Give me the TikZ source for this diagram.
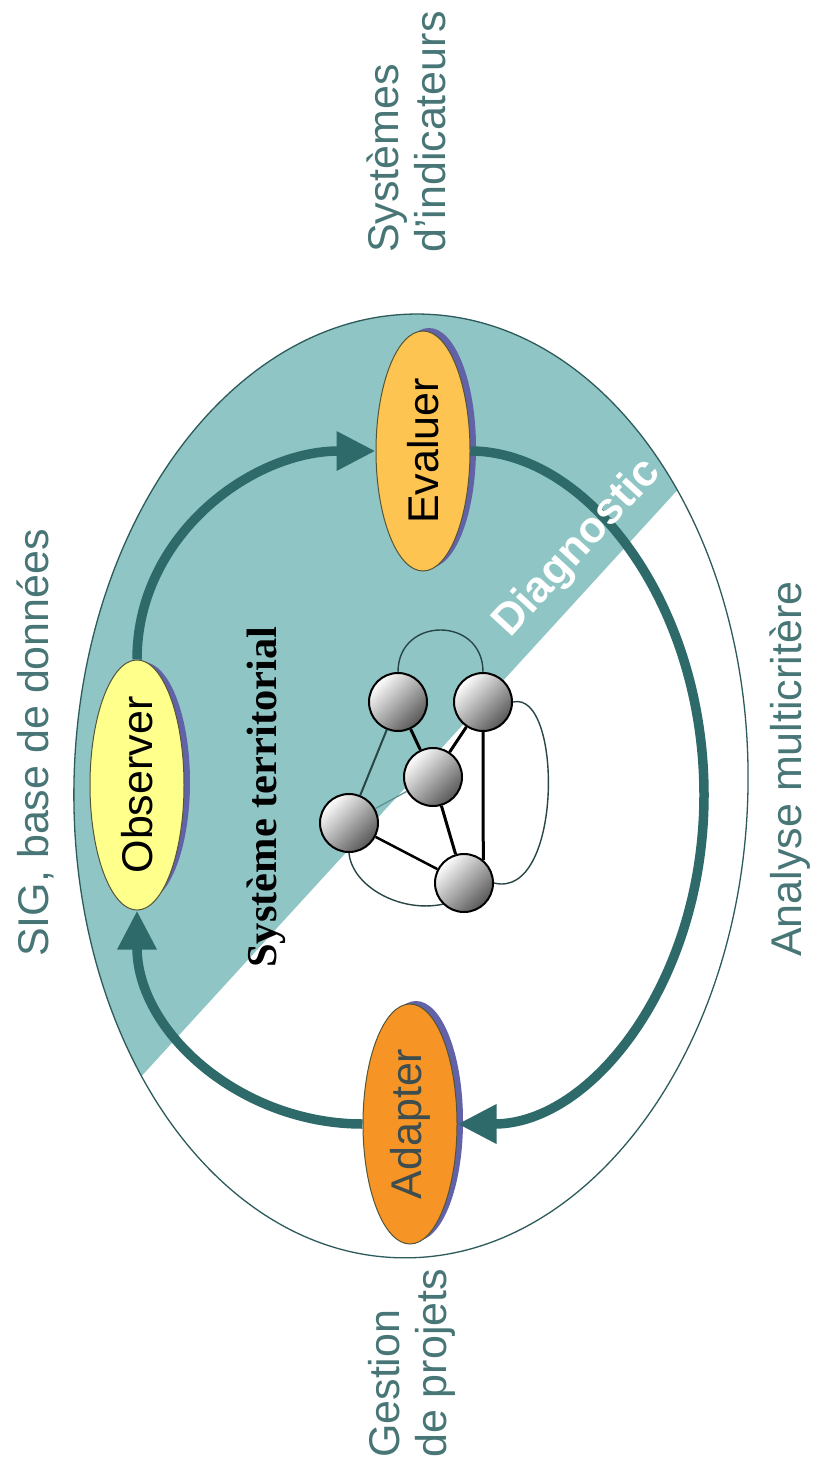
\documentclass[tikz,border=0pt]{standalone}
\usepackage{fontspec}
\setmainfont{Liberation Sans}
\newfontfamily\serifb{Liberation Serif}
\usetikzlibrary{arrows.meta,shapes.geometric}
\definecolor{lbl}{RGB}{72,118,118}
\definecolor{tealbg}{RGB}{143,197,197}
\definecolor{arr}{RGB}{46,106,106}
\definecolor{outerc}{RGB}{45,90,90}
\definecolor{shad}{RGB}{98,98,168}
\definecolor{obsf}{RGB}{255,255,140}
\definecolor{evaf}{RGB}{253,196,82}
\definecolor{adaf}{RGB}{247,148,38}
\definecolor{edgec}{RGB}{85,85,55}
\definecolor{adat}{RGB}{62,78,78}
\definecolor{netthin}{RGB}{40,70,70}
\definecolor{netlight}{RGB}{95,145,145}
\begin{document}
\begin{tikzpicture}[x=1pt,y=1pt,
  lab/.style={text=lbl, font=\fontsize{43}{47}\selectfont, inner sep=0pt, rotate=90, align=left},
  stage/.style={ellipse, draw=edgec, line width=1pt, minimum width=240pt, minimum height=94pt, inner sep=0pt, rotate=90, font=\fontsize{43}{47}\selectfont},
  cyclearrow/.style={draw=arr, line width=9.5pt, -{Triangle[length=39pt,width=37pt]}},
  ball/.style={circle, draw=black, line width=2pt, minimum size=58pt, inner sep=0pt, shading=axis, top color=white, bottom color=black!66, shading angle=45},
  thick edge/.style={line width=3pt, draw=black},
  thin curve/.style={line width=1.4pt, draw=netthin}
]
\fill[white] (0,0) rectangle (812,-1463);
\useasboundingbox (0,0) rectangle (812,-1463);
\coordinate (oc) at (411,-786);
% teal diagnostic region
\begin{scope}
  \clip[rotate around={-1.5:(oc)}] (oc) ellipse [x radius=337, y radius=472];
  \fill[tealbg] (10,-1220) -- (810,-345) -- (812,0) -- (0,0) -- (0,-1220) -- cycle;
\end{scope}
\draw[outerc, line width=1.3pt, rotate around={-1.5:(oc)}] (oc) ellipse [x radius=337, y radius=472];

% network
\node[ball] (nA) at (398,-702) {};
\node[ball] (nB) at (483,-702) {};
\node[ball] (nC) at (433,-777) {};
\node[ball] (nD) at (349,-823) {};
\node[ball] (nE) at (464,-883) {};
\draw[thick edge] (nA) -- (nC);
\draw[thick edge] (nB) -- (nC);
\draw[thick edge] (nB.south) -- (nE.50);
\draw[thick edge] (nC) -- (nE);
\draw[line width=2.5pt] (nD) -- (nE);
\draw[line width=2pt, draw=netthin] (nA) -- (nD);
\draw[line width=1.3pt, draw=netlight] (nD) -- (nC);
\draw[thin curve] (nA.north) .. controls +(0,56) and +(0,56) .. (nB.north);
\draw[thin curve] (nB.east) .. controls +(50,12) and +(69,-17) .. (nE.east);
\draw[thin curve] (nD.south) .. controls +(3,-33) and +(-43,-9) .. (nE.225);

\node[rotate=90, anchor=base west, inner sep=0pt, font=\serifb\bfseries\fontsize{42.5}{46}\selectfont] (st) at (276,-968) {Système territorial};

% stages
\fill[shad] (143,-782) ellipse [x radius=47, y radius=120];
\fill[shad] (429,-448) ellipse [x radius=47, y radius=120];
\fill[shad] (416,-1121) ellipse [x radius=47, y radius=120];
\node[stage, fill=obsf] (obs) at (137,-785) {Observer};
\node[stage, fill=evaf] (eva) at (423,-451) {Evaluer};
\node[stage, fill=adaf, text=adat] (ada) at (410,-1124) {Adapter};

\coordinate (rp) at (704,-795);
\draw[cyclearrow] (obs.east) to[out=90,in=180] (eva.north);
\draw[cyclearrow] (eva.south) .. controls +(118,0) and +(0,190) .. (rp) .. controls +(0,-185) and +(135,0) .. (ada.south);
\draw[cyclearrow] (ada.north) to[out=180,in=-90] (obs.west);

\node[rotate=47.5, anchor=base west, inner sep=0pt, text=white, font=\bfseries\fontsize{44}{48}\selectfont] (dg) at (510,-639) {Diagnostic};

% labels
\node[lab, anchor=north west] (ind) at (367,-253) {Systèmes\\d'indicateurs};
\node[lab, anchor=base west] (sig) at (48,-957) {SIG, base de données};
\node[lab, anchor=base west] (amc) at (801,-957) {Analyse multicritère};
\node[lab, anchor=north west] (gp) at (368,-1458) {Gestion\\de projets};
\end{tikzpicture}
\end{document}
